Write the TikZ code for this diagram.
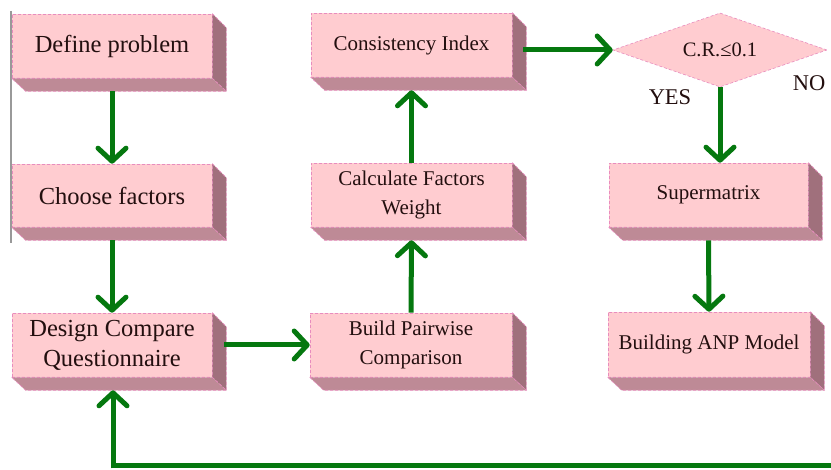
\documentclass[tikz,border=0pt]{standalone}
\usepackage{fontspec}
\setmainfont{Liberation Serif}
\usetikzlibrary{arrows.meta,shapes.geometric,calc}
\definecolor{boxfill}{RGB}{255,204,208}
\definecolor{boxedge}{RGB}{232,140,190}
\definecolor{sidebot}{RGB}{190,138,150}
\definecolor{sideright}{RGB}{160,112,124}
\definecolor{flowgreen}{RGB}{5,120,15}
\definecolor{txt}{RGB}{35,15,15}
\tikzset{
  block/.style={rectangle, fill=boxfill, draw=boxedge, densely dashed, line width=0.6pt,
    minimum width=200pt, minimum height=64pt, inner sep=2pt, align=center, text=txt},
  bigtext/.style={font=\fontsize{24.5}{30}\selectfont},
  smalltext/.style={font=\fontsize{21}{29}\selectfont},
  sideB/.style={fill=sidebot, draw=boxedge, densely dashed, line width=0.6pt},
  sideR/.style={fill=sideright, draw=boxedge, densely dashed, line width=0.6pt},
  flow/.style={draw=flowgreen, line width=5pt, -{Straight Barb[length=13pt,width=28pt,round]}},
  flowline/.style={draw=flowgreen, line width=5pt},
  decision/.style={diamond, fill=boxfill, draw=boxedge, densely dashed, line width=0.6pt,
    minimum width=214pt, minimum height=74pt, inner sep=0pt, aspect=2.9, text=txt,
    font=\fontsize{20.5}{24}\selectfont},
  lbl/.style={text=txt, font=\fontsize{22.5}{26}\selectfont, inner sep=0pt}
}
\newcommand{\mkdepth}[1]{%
  \filldraw[sideR] (#1.north east) -- ([shift={(14,14)}]#1.north east) -- ([shift={(14,13)}]#1.south east) -- (#1.south east) -- cycle;
  \filldraw[sideB] (#1.south west) -- (#1.south east) -- ([shift={(14,13)}]#1.south east) -- ([shift={(14,13)}]#1.south west) -- cycle;
}
\begin{document}
\begin{tikzpicture}[x=1pt,y=-1pt]
\useasboundingbox (0,0) rectangle (831,470);
\fill[white] (0,0) rectangle (831,470);
% left gray border line
\draw[gray!80, line width=1.5pt] (11,11) -- (11,243);

% boxes
\node[block,bigtext] (def) at (112,46) {Define problem};
\node[block,bigtext,minimum height=63pt] (choose) at (112,195.5) {Choose factors};
\node[block,bigtext] (design) at (112,345) {Design Compare\\Questionnaire};
\node[block,smalltext,minimum width=202pt] (build) at (411,345) {Build Pairwise\\Comparison};
\node[block,smalltext,minimum width=201pt] (calc) at (411.5,195) {Calculate Factors\\Weight};
\node[block,smalltext,minimum width=201pt] (cons) at (411.5,45) {Consistency Index};
\node[block,smalltext,minimum width=199pt] (super) at (708.5,195) {Supermatrix};
\node[block,smalltext,minimum width=202pt,minimum height=65pt] (anp) at (709,344.5) {Building ANP Model};
\node[decision] (dia) at (720,50) {C.R.≤0.1};

\mkdepth{def}
\mkdepth{choose}
\mkdepth{design}
\mkdepth{build}
\mkdepth{calc}
\mkdepth{cons}
\mkdepth{super}
\mkdepth{anp}

% labels
\node[lbl] (yes) at (670,97) {YES};
\node[lbl] (no) at (809,83) {NO};

% connectors
\draw[flow] ([shift={(0,13)}]def.south) -- (choose.north);
\draw[flow] ([shift={(0,13)}]choose.south) -- (design.north);
\draw[flow] ([shift={(12,0)}]design.east) -- (build.west);
\draw[flow] (build.north) -- ([shift={(0,13)}]calc.south);
\draw[flow] (calc.north) -- ([shift={(0,13)}]cons.south);
\draw[flow] ($(dia.west -| cons.east)+(11,0)$) -- (dia.west);
\draw[flow] (dia.south) -- (dia.south |- super.north);
\draw[flow] ([shift={(0,13)}]super.south) -- (anp.north);
\coordinate (fbstart) at (840,466);
\coordinate (fbcorner) at (113,466);
\draw[flowline, line cap=butt] (fbstart) -- (fbcorner);
\draw[flow] ([shift={(0,2.5)}]fbcorner) -- ([shift={(1,13)}]design.south);
\end{tikzpicture}
\end{document}
